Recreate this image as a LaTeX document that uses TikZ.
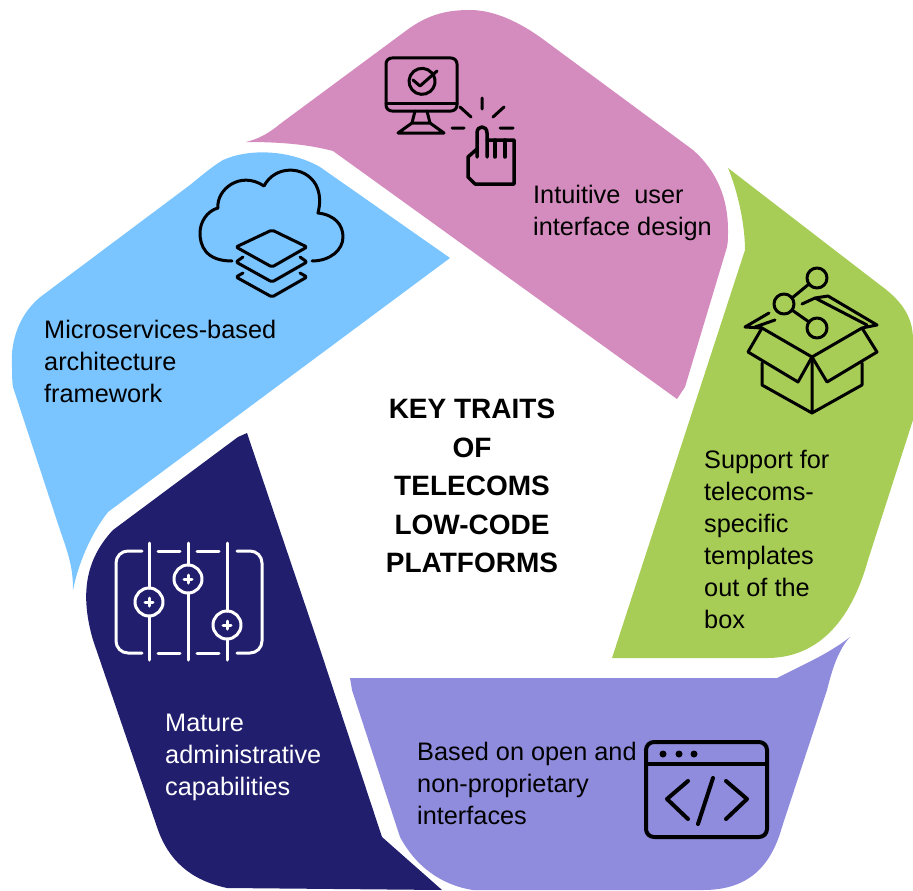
\documentclass[tikz,border=0pt]{standalone}
\usepackage{fontspec}
\setmainfont{Liberation Sans}
\definecolor{pinkpetal}{RGB}{212,139,190}
\definecolor{skypetal}{RGB}{122,196,255}
\definecolor{navypetal}{RGB}{33,30,110}
\definecolor{lilacpetal}{RGB}{143,139,221}
\definecolor{greenpetal}{RGB}{167,205,87}
\usetikzlibrary{positioning}
\tikzstyle{trait} = [anchor=north west, inner sep=0pt, align=left, font=\fontsize{25.3}{32}\selectfont]
\tikzstyle{title} = [align=center, font=\fontsize{28}{38.5}\selectfont\bfseries]
\tikzstyle{icon} = [line width=3pt, line cap=round, line join=round]

\begin{document}
\begin{tikzpicture}[x=1pt, y=-1pt]
    \useasboundingbox (0,0) rectangle (913,891);

    % Place the petals
    \fill [pinkpetal] (246,142) .. controls (258,139) and (268,134) .. (280,124)
        -- (407,30) .. controls (430,13) and (450,10) .. (470,10)
        .. controls (495,10) and (520,23) .. (540,37) -- (693,150)
        .. controls (718,172) and (728,200) .. (728,230)
        .. controls (728,238) and (728,242) .. (727,247)
        -- (685,387) -- (677,399) -- (333,151)
        .. controls (310,145) and (285,142) .. (246,142) -- cycle;
    \fill [skypetal] (450,258) -- (320,167) .. controls (290,150) and (250,148) .. (223,160)
        .. controls (210,168) and (200,177) .. (190,185)
        -- (43,295) .. controls (20,312) and (10,340) .. (12,367)
        .. controls (12,375) and (12,380) .. (13,387)
        -- (60,530) .. controls (70,558) and (73,570) .. (73,590)
        .. controls (78,565) and (90,535) .. (108,512) -- cycle;
    \fill [navypetal] (247,433) -- (317,640) -- (382,837) -- (442,890)
        -- (227,888) .. controls (190,880) and (168,860) .. (157,827)
        -- (93,640) .. controls (80,595) and (85,560) .. (113,530)
        -- (238,437) -- cycle;
    \fill [lilacpetal] (350,678) -- (777,678) -- (813,660) .. controls (825,654) and (840,645) .. (850,637)
        .. controls (838,650) and (832,670) .. (827,690)
        -- (782,827) .. controls (770,870) and (745,890) .. (703,890)
        -- (473,890) .. controls (440,885) and (415,865) .. (400,837)
        -- (352,690) -- cycle;
    \fill [greenpetal] (728,168) -- (880,285) .. controls (905,303) and (913,320) .. (913,340)
        -- (913,420) -- (868,560) .. controls (850,625) and (815,658) .. (767,658)
        -- (612,658) -- (745,250) .. controls (745,225) and (738,192) .. (728,168) -- cycle;

    % Place the texts
    \node [title] (heading) at (472,486) {KEY TRAITS\\OF\\TELECOMS\\LOW-CODE\\PLATFORMS};
    \node [trait] (design) at (533,185) {Intuitive\ \ user\\interface design};
    \node [trait] (micro) at (44,320) {Microservices-based\\architecture\\framework};
    \node [trait] (templates) at (704,450) {Support for\\telecoms-\\specific\\templates\\out of the\\box};
    \node [trait] (openapi) at (417,742) {Based on open and\\non-proprietary\\interfaces};
    \node [trait, text=white] (admin) at (165,714) {Mature\\administrative\\capabilities};

    % Monitor and hand
    \draw [icon] (386,103) -- (457,103);
    \draw [icon, rounded corners=6pt] (386,58) rectangle (457,111);
    \draw [icon] (415,111) -- (412,123) (427,111) -- (430,123);
    \draw [icon] (398,133) -- (444,133) -- (430,123) -- (412,123) -- cycle;
    \draw [icon] (432,73) arc (-40:-385:13) ;
    \draw [icon] (413,80) -- (420,86) -- (437,71);
    \draw [icon] (482,98) -- (482,109) (460,107) -- (471,117) (504,107) -- (493,117)
        (452,128) -- (464,128) (500,128) -- (513,128);
    \draw [icon, line width=3.5pt] (477,157) -- (477,133) .. controls (477,125) and (487,125) .. (487,133) -- (487,157);
    \draw [icon, line width=3.5pt] (487,140) -- (514,140) -- (514,184) -- (475,184) -- (468,177) -- (468,157) -- (477,149);
    \draw [icon, line width=3.5pt] (495,140) -- (495,157) (505,140) -- (505,157);

    % Open box
    \draw [icon] (817,278) circle (10) (784,304) circle (10) (817,328) circle (10);
    \draw [icon] (792,298) -- (809,284) (792,310) -- (809,322);
    \draw [icon] (812,357) -- (812,413) -- (762,385) -- (762,363) (812,413) -- (862,385) -- (862,363);
    \draw [icon] (812,357) -- (798,382) -- (748,352) -- (762,328) -- cycle;
    \draw [icon] (812,357) -- (827,382) -- (877,352) -- (862,328) -- cycle;
    \draw [icon] (762,328) -- (745,327) -- (769,313) (755,327) -- (775,320);
    \draw [icon] (802,304) -- (815,298) -- (828,296) -- (877,325) -- (862,328) (815,298) -- (867,325);

    % Sliders
    \draw [icon, white] (149,543) -- (149,588) (149,616) -- (149,660)
        (188,543) -- (188,565) (188,593) -- (188,660)
        (227,543) -- (227,611) (227,639) -- (227,660);
    \draw [icon, white] (149,602) circle (14) (188,579) circle (14) (227,625) circle (14);
    \draw [icon, white] (145,602) -- (153,602) (149,598) -- (149,606)
        (184,579) -- (192,579) (188,575) -- (188,583)
        (223,625) -- (231,625) (227,621) -- (227,629);
    \draw [icon, white, rounded corners=12pt] (142,551) -- (116,551) -- (116,653) -- (142,653);
    \draw [icon, white, rounded corners=12pt] (237,551) -- (262,551) -- (262,653) -- (237,653);
    \draw [icon, white] (158,551) -- (180,551) (197,551) -- (219,551)
        (158,653) -- (180,653) (197,653) -- (219,653);

    % Code window
    \draw [icon, line width=4pt, rounded corners=8pt] (646,742) rectangle (767,837);
    \draw [icon, line width=4pt] (646,764) -- (767,764);
    \fill (663,754) circle (3.5) (679,754) circle (3.5) (694,754) circle (3.5);
    \draw [icon, line width=4pt] (688,781) -- (667,799) -- (688,819);
    \draw [icon, line width=4pt] (726,781) -- (747,799) -- (726,819);
    \draw [icon, line width=4pt] (713,778) -- (698,824);

    % Cloud with layers
    \draw [icon] (232,261) .. controls (205,261) and (200,245) .. (200,233)
        .. controls (200,222) and (207,211) .. (218,208)
        .. controls (216,190) and (240,170) .. (264,186)
        .. controls (275,165) and (305,165) .. (316,185)
        .. controls (321,195) and (320,205) .. (318,213)
        .. controls (335,215) and (343,225) .. (343,237)
        .. controls (343,250) and (330,261) .. (312,261);
    \draw [icon, rounded corners=2pt] (272,230) -- (307,247) -- (272,267) -- (236,247) -- cycle;
    \draw [icon, rounded corners=2pt] (243,257) -- (236,262) -- (272,282) -- (307,262) -- (300,257);
    \draw [icon, rounded corners=2pt] (243,273) -- (236,277) -- (272,297) -- (307,277) -- (300,273);
\end{tikzpicture}
\end{document}
